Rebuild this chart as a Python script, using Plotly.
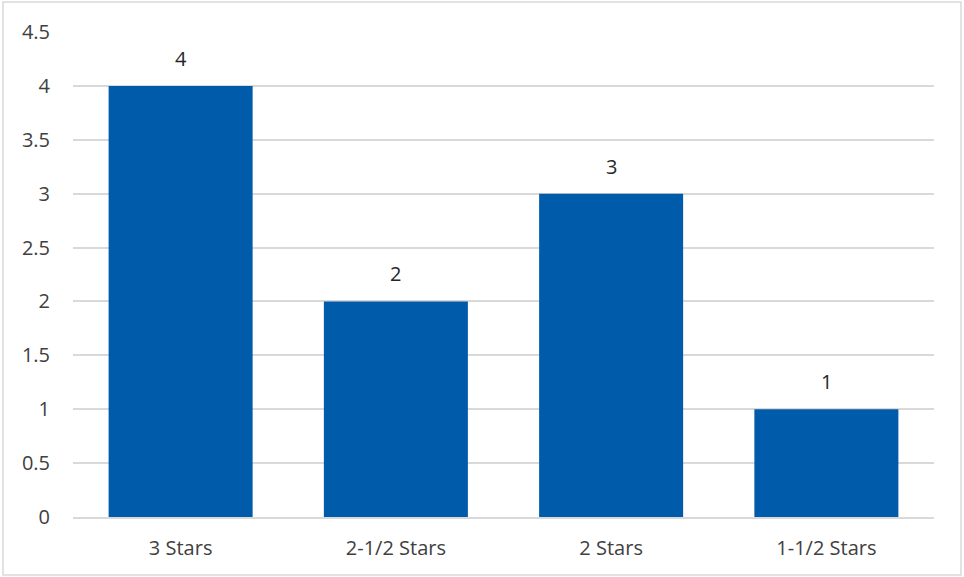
import plotly.graph_objects as go

categories = ["3 Stars", "2-1/2 Stars", "2 Stars", "1-1/2 Stars"]
values = [4, 2, 3, 1]

W, H = 964, 577
L, R, T, B = 73, 30, 32, 60
pw, ph = W - L - R, H - T - B
FONT = "Open Sans, Lato, sans-serif"
FS = 20

fig = go.Figure(go.Bar(x=categories, y=values, marker=dict(color="#005BAA", line=dict(width=0)),
                       hoverinfo="skip"))

for c, v in zip(categories, values):
    fig.add_annotation(x=c, y=v, text=str(v), showarrow=False, yanchor="bottom", yshift=12,
                       font=dict(family=FONT, size=FS, color="#262626"))

fig.add_shape(type="rect", xref="paper", yref="paper",
              x0=(3 - L) / pw, x1=(961 - L) / pw,
              y0=(H - B - 575) / ph, y1=(H - B - 2) / ph,
              line=dict(color="#d9d9d9", width=1.5), fillcolor="rgba(0,0,0,0)", layer="below")

fig.update_layout(
    width=W, height=H, margin=dict(l=L, r=R, t=T, b=B),
    paper_bgcolor="white", plot_bgcolor="white",
    bargap=0.331, showlegend=False,
    font=dict(family=FONT, size=FS, color="#404040"),
    xaxis=dict(showgrid=False, ticks="", showline=True, linecolor="#d9d9d9", linewidth=1.5,
               ticklabelstandoff=12, tickfont=dict(family=FONT, size=FS, color="#404040")),
    yaxis=dict(range=[0, 4.5], dtick=0.5, tickformat="~g", showgrid=True, gridcolor="#d9d9d9",
               gridwidth=1.5, zeroline=False, showline=False, ticks="", ticklabelstandoff=22,
               tickfont=dict(family=FONT, size=FS, color="#404040")),
)

fig.write_html("out.html")
